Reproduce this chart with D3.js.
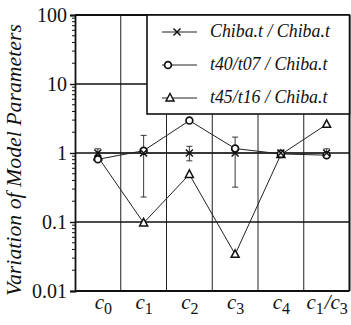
<!DOCTYPE html>
<html>
<head>
<meta charset="utf-8">
<script src="https://cdn.jsdelivr.net/npm/d3@7"></script>
<style>
  html, body { margin: 0; padding: 0; background: #fff; }
  svg { display: block; }
  text { font-family: "Liberation Serif", "Times New Roman", serif; fill: #111; }
</style>
</head>
<body>
<svg id="chart" width="351" height="325"></svg>
<script>
// Parameter names: pairs of [base letter, subscript]
const categories = ["c0", "c1", "c2", "c3", "c4", "c1/c3"];
const categoryLabels = [
  [["c", "0"]],
  [["c", "1"]],
  [["c", "2"]],
  [["c", "3"]],
  [["c", "4"]],
  [["c", "1"], ["/c", "3"]]
];

const seriesNames = ["Chiba.t / Chiba.t", "t40/t07 / Chiba.t", "t45/t16 / Chiba.t"];

// Chiba.t / Chiba.t : mean ratio with spread (low, high)
const chibaValues = [1.0, 1.0, 1.0, 1.0, 1.0, 1.0];
const chibaLow    = [0.86, 0.23, 0.77, 0.32, 0.90, 0.90];
const chibaHigh   = [1.15, 1.80, 1.25, 1.70, 1.10, 1.15];

// t40/t07 / Chiba.t
const t40Values = [0.81, 1.08, 2.95, 1.16, 0.97, 0.93];

// t45/t16 / Chiba.t
const t45Values = [0.88, 0.097, 0.49, 0.034, 0.95, 2.6];

const yTicks = [0.01, 0.1, 1, 10, 100];
const yTickLabels = ["0.01", "0.1", "1", "10", "100"];

const svg = d3.select("#chart");
const margin = { left: 75, right: 1.5, top: 15, bottom: 34 };
const W = 351, H = 325;

const x = d3.scaleBand().domain(categories).range([margin.left, W - margin.right]);
const y = d3.scaleLog().domain([0.01, 100]).range([H - margin.bottom, margin.top]);
const cx = c => x(c) + x.bandwidth() / 2;

// Shrink or grow a text's font so that it spans the wanted width
function fitFont(sel, base, width) {
  sel.style("font-size", base + "px");
  const len = sel.node().getComputedTextLength();
  const size = base * width / len;
  sel.style("font-size", size + "px");
  return size;
}

// Vertical grid lines between columns
svg.append("g").selectAll("line")
  .data(categories.slice(1))
  .join("line")
  .attr("x1", d => x(d)).attr("x2", d => x(d))
  .attr("y1", y(100)).attr("y2", y(0.01))
  .attr("stroke", "#222").attr("stroke-width", 1);

// Horizontal grid at decades
svg.append("g").selectAll("line")
  .data([0.1, 1, 10])
  .join("line")
  .attr("x1", margin.left).attr("x2", W - margin.right)
  .attr("y1", d => y(d)).attr("y2", d => y(d))
  .attr("stroke", "#111").attr("stroke-width", 1.6);

// Frame: top, bottom and right border
svg.append("line").attr("x1", margin.left).attr("x2", W - margin.right)
  .attr("y1", y(100)).attr("y2", y(100)).attr("stroke", "#111").attr("stroke-width", 1.8);
svg.append("line").attr("x1", margin.left).attr("x2", W - margin.right)
  .attr("y1", y(0.01)).attr("y2", y(0.01)).attr("stroke", "#111").attr("stroke-width", 1.8);
svg.append("line").attr("x1", W - margin.right).attr("x2", W - margin.right)
  .attr("y1", y(100)).attr("y2", y(0.01)).attr("stroke", "#111").attr("stroke-width", 2);

// Left log axis with minor ticks
const minorTicks = [];
for (let e = -2; e < 2; e++) for (let m = 2; m <= 9; m++) minorTicks.push(m * Math.pow(10, e));

const yAxis = svg.append("g").attr("transform", `translate(${margin.left},0)`)
  .call(d3.axisLeft(y).tickValues(yTicks).tickFormat((d, i) => yTickLabels[i]).tickSize(5).tickPadding(3));
yAxis.select(".domain").attr("stroke", "#111").attr("stroke-width", 1.8);
yAxis.selectAll(".tick line").attr("stroke", "#111").attr("stroke-width", 1.4);
yAxis.selectAll(".tick text")
  .style("font-family", "'Liberation Serif', serif").style("font-size", "20px").attr("fill", "#111");

yAxis.append("g").selectAll("line").data(minorTicks).join("line")
  .attr("x1", -3).attr("x2", 0)
  .attr("y1", d => y(d)).attr("y2", d => y(d))
  .attr("stroke", "#111").attr("stroke-width", 1);

// Y axis title
const title = svg.append("text")
  .attr("transform", `translate(21,160) rotate(-90)`)
  .attr("text-anchor", "middle")
  .style("font-style", "italic")
  .text("Variation of Model Parameters");
fitFont(title, 20, 272);

// Category labels with subscripts
const xl = svg.append("g");
categories.forEach((c, i) => {
  const t = xl.append("text")
    .attr("x", cx(c) + (i === 0 ? 6 : 1)).attr("y", y(0.01) + 18)
    .attr("text-anchor", "middle")
    .style("font-size", "21px");
  categoryLabels[i].forEach(([base, sub]) => {
    t.append("tspan").style("font-style", "italic").text(base);
    t.append("tspan").style("font-size", "16px").attr("dy", 5).text(sub);
    t.append("tspan").style("font-size", "4px").attr("dy", -5).text("\u00a0");
  });
});

// Error bars for Chiba.t
const eb = svg.append("g").attr("stroke", "#222").attr("stroke-width", 0.9);
categories.forEach((c, i) => {
  eb.append("line").attr("x1", cx(c)).attr("x2", cx(c)).attr("y1", y(chibaLow[i])).attr("y2", y(chibaHigh[i]));
  [chibaLow[i], chibaHigh[i]].forEach(v => {
    eb.append("line").attr("x1", cx(c) - 3).attr("x2", cx(c) + 3).attr("y1", y(v)).attr("y2", y(v));
  });
});

// Series lines
const line = vals => d3.line().x((d, i) => cx(categories[i])).y(d => y(d))(vals);
[chibaValues, t40Values, t45Values].forEach(vals => {
  svg.append("path").attr("d", line(vals)).attr("fill", "none").attr("stroke", "#222").attr("stroke-width", 1);
});

// Markers
const drawCross = (g, px, py) => {
  g.append("path").attr("d", `M${px - 3.5},${py - 3.5}L${px + 3.5},${py + 3.5}M${px - 3.5},${py + 3.5}L${px + 3.5},${py - 3.5}`)
    .attr("stroke", "#111").attr("stroke-width", 1.5).attr("fill", "none");
};
const drawCircle = (g, px, py) => {
  g.append("circle").attr("cx", px).attr("cy", py).attr("r", 3.4)
    .attr("fill", "#fff").attr("stroke", "#111").attr("stroke-width", 1.7);
};
const drawTri = (g, px, py) => {
  g.append("path").attr("d", `M${px},${py - 4.5}L${px + 4},${py + 3}L${px - 4},${py + 3}Z`)
    .attr("fill", "#fff").attr("stroke", "#111").attr("stroke-width", 1.5);
};
const mk = svg.append("g");
categories.forEach((c, i) => drawTri(mk, cx(c), y(t45Values[i])));
categories.forEach((c, i) => drawCircle(mk, cx(c), y(t40Values[i])));
categories.forEach((c, i) => drawCross(mk, cx(c), y(chibaValues[i])));

// Legend
const lg = svg.append("g");
const lx0 = 147, ly0 = y(100), lx1 = W - margin.right, ly1 = 114;
lg.append("rect").attr("x", lx0).attr("y", ly0).attr("width", lx1 - lx0).attr("height", ly1 - ly0)
  .attr("fill", "#fff").attr("stroke", "#111").attr("stroke-width", 1.6);
const drawers = [drawCross, drawCircle, drawTri];
const markerX = [177, 168, 170];
let legendSize = null;
seriesNames.forEach((name, i) => {
  const ly = 32 + i * 33;
  lg.append("line").attr("x1", 162).attr("x2", 197).attr("y1", ly).attr("y2", ly)
    .attr("stroke", "#222").attr("stroke-width", 1);
  drawers[i](lg, markerX[i], ly);
  const t = lg.append("text").attr("x", 210).attr("y", ly + 5)
    .style("font-style", "italic").text(name);
  if (legendSize === null) legendSize = fitFont(t, 17, 120);
  else t.style("font-size", legendSize + "px");
});
</script>
</body>
</html>
